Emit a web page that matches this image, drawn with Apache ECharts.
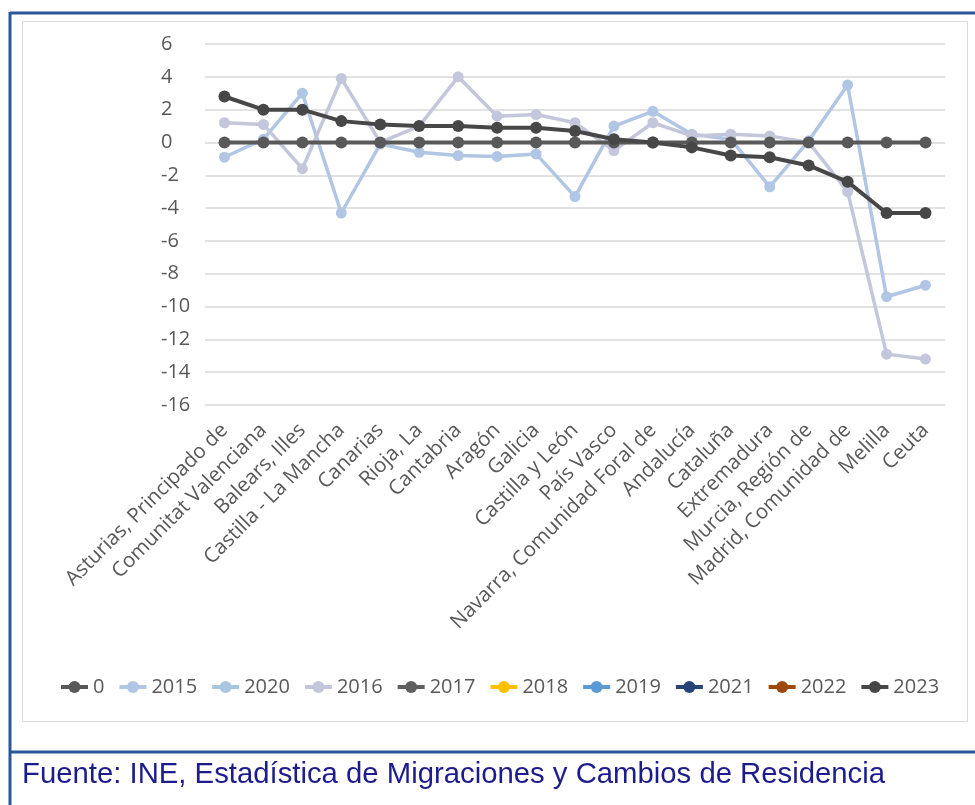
<!DOCTYPE html>
<html>
<head>
<meta charset="utf-8">
<script src="https://cdn.jsdelivr.net/npm/echarts@6/dist/echarts.min.js"></script>
<style>
html,body{margin:0;padding:0;background:#fff;}
#chart{width:975px;height:805px;}
</style>
</head>
<body>
<div id="chart"></div>
<script>
var categories = ['Asturias, Principado de','Comunitat Valenciana','Balears, Illes','Castilla - La Mancha','Canarias','Rioja, La','Cantabria','Aragón','Galicia','Castilla y León','País Vasco','Navarra, Comunidad Foral de','Andalucía','Cataluña','Extremadura','Murcia, Región de','Madrid, Comunidad de','Melilla','Ceuta'];
var yTicks = {min: -16, max: 6, step: 2};
var legendNames = ['0','2015','2020','2016','2017','2018','2019','2021','2022','2023'];
var s0    = [0,0,0,0,0,0,0,0,0,0,0,0,0,0,0,0,0,0,0];
var s2015 = [-0.9, 0.2, 3.0, -4.3, -0.1, -0.6, -0.8, -0.85, -0.7, -3.3, 1.0, 1.9, 0.5, 0.2, -2.7, 0.1, 3.5, -9.4, -8.7];
var s2016 = [1.2, 1.1, -1.6, 3.9, 0.0, 1.0, 4.0, 1.6, 1.7, 1.2, -0.5, 1.2, 0.4, 0.5, 0.4, 0.0, -3.0, -12.9, -13.2];
var s2023 = [2.8, 2.0, 2.0, 1.3, 1.1, 1.0, 1.0, 0.9, 0.9, 0.7, 0.2, 0.0, -0.3, -0.8, -0.9, -1.4, -2.4, -4.3, -4.3];
var s2020 = [], s2017 = [], s2018 = [], s2019 = [], s2021 = [], s2022 = [];

var colors = {'0':'#595959','2015':'#b0c6e4','2020':'#a9c6df','2016':'#c4c6db','2017':'#5f5f5f','2018':'#ffc000','2019':'#5b9bd5','2021':'#264478','2022':'#9e480e','2023':'#474747'};
var dataMap = {'0':s0,'2015':s2015,'2020':s2020,'2016':s2016,'2017':s2017,'2018':s2018,'2019':s2019,'2021':s2021,'2022':s2022,'2023':s2023};
var dark = {'0':1,'2017':1,'2023':1,'2021':1,'2022':1};

var series = legendNames.map(function(n, i){
  var isDark = !!dark[n];
  return {
    name: n, type: 'line', data: dataMap[n],
    symbol: 'circle', symbolSize: isDark ? 12 : 11,
    z: n === '2023' ? 5 : (n === '0' ? 4 : 3),
    lineStyle: {color: colors[n], width: isDark ? 4 : 3.5},
    itemStyle: {color: colors[n]},
    emphasis: {disabled: true}
  };
});

var chart = echarts.init(document.getElementById('chart'), null, {renderer:'canvas'});
chart.setOption({
  animation: false,
  backgroundColor: '#ffffff',
  textStyle: {fontFamily: 'Open Sans'},
  title: {
    text: 'Fuente: INE, Estadística de Migraciones y Cambios de Residencia',
    left: 17, top: 755,
    textStyle: {fontFamily: 'Liberation Sans', fontSize: 29.3, fontWeight: 'normal', color: '#1c1c8c'}
  },
  graphic: [
    {type:'rect', shape:{x:22.5,y:21.5,width:945,height:700}, style:{fill:null, stroke:'#d9d9d9', lineWidth:1}, z:-1},
    {type:'line', shape:{x1:10,y1:13,x2:975,y2:13}, style:{stroke:'#2b579a', lineWidth:3}},
    {type:'line', shape:{x1:10,y1:12,x2:10,y2:805}, style:{stroke:'#2b579a', lineWidth:3}},
    {type:'line', shape:{x1:10,y1:752,x2:975,y2:752}, style:{stroke:'#2b579a', lineWidth:3}}
  ],
  legend: {
    data: legendNames,
    left: 54, top: 672,
    itemWidth: 27, itemHeight: 15, itemGap: 13,
    lineStyle: {width: 4},
    textStyle: {fontSize: 20, color: '#595959', fontFamily: 'Open Sans'}
  },
  grid: {left: 205, right: 30, top: 44, bottom: 400},
  xAxis: {
    type: 'category', data: categories, boundaryGap: true,
    axisLine: {show: false, onZero: false}, axisTick: {show: false},
    axisLabel: {rotate: 45, interval: 0, margin: 22, fontSize: 20.5, color: '#595959', fontFamily: 'Open Sans'}
  },
  yAxis: {
    type: 'value', min: yTicks.min, max: yTicks.max, interval: yTicks.step,
    axisLine: {show: false}, axisTick: {show: false},
    splitLine: {lineStyle: {color: '#d9d9d9', width: 1.5}},
    axisLabel: {align: 'left', margin: 44, fontSize: 20, color: '#595959', fontFamily: 'Open Sans'}
  },
  series: series
});
</script>
</body>
</html>
